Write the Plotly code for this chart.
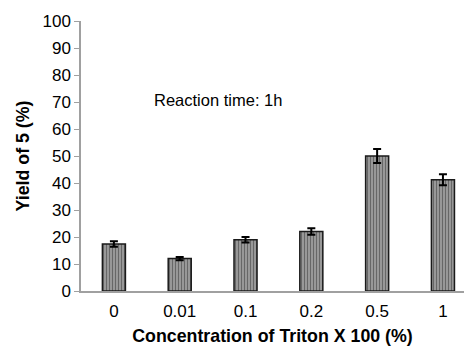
import plotly.graph_objects as go

categories = ["0", "0.01", "0.1", "0.2", "0.5", "1"]
yield_vals = [17.4, 12.0, 19.0, 22.0, 50.0, 41.2]
yield_err = [1.0, 0.6, 1.0, 1.2, 2.6, 2.0]
y_ticks = [0, 10, 20, 30, 40, 50, 60, 70, 80, 90, 100]

font = "Liberation Sans, Arial, sans-serif"

fig = go.Figure()
fig.add_trace(go.Bar(
    x=list(range(len(categories))),
    y=yield_vals,
    width=0.35,
    marker=dict(
        color="#808080",
        line=dict(color="#1a1a1a", width=1.5),
        pattern=dict(shape="|", size=3, solidity=0.5, fgcolor="#262626", bgcolor="#a8a8a8"),
    ),
    error_y=dict(type="data", array=yield_err, visible=True, color="black", thickness=2, width=4),
))

fig.add_annotation(x=0.58, y=70.7, text="Reaction time: 1h", showarrow=False,
                   xanchor="left", yanchor="middle", font=dict(size=16.5, color="black", family=font))

fig.update_layout(
    width=464, height=346,
    margin=dict(l=81, r=0, t=21, b=55),
    paper_bgcolor="white", plot_bgcolor="white",
    showlegend=False,
    font=dict(family=font, color="black"),
    xaxis=dict(
        range=[-0.5, 5.32],
        tickmode="array", tickvals=list(range(len(categories))), ticktext=categories,
        showline=True, linecolor="#a0a0a0", linewidth=1.5,
        showgrid=False, ticks="", zeroline=False,
        ticklabelstandoff=4,
        tickfont=dict(size=17, family=font, color="black"),
        title=dict(text="<b>Concentration of Triton X 100 (%)</b>", font=dict(size=17.8, family=font), standoff=10),
    ),
    yaxis=dict(
        range=[0, 100],
        tickmode="array", tickvals=y_ticks,
        showline=True, linecolor="#a0a0a0", linewidth=1.5,
        ticks="outside", ticklen=5, tickcolor="#a0a0a0",
        showgrid=False, zeroline=False,
        tickfont=dict(size=17, family=font, color="black"),
        title=dict(text="<b>Yield of 5 (%)</b>", font=dict(size=17.8, family=font), standoff=8),
    ),
)

fig.write_html("out.html")
